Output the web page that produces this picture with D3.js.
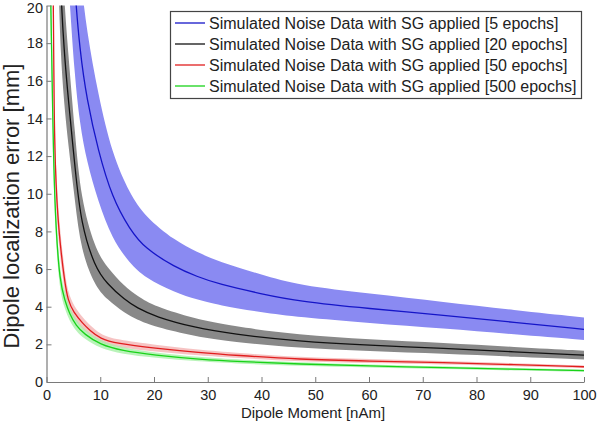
<!DOCTYPE html>
<html>
<head>
<meta charset="utf-8">
<script src="https://cdn.jsdelivr.net/npm/d3@7"></script>
<style>
  html, body { margin: 0; padding: 0; background: #fff; }
  svg { display: block; font-family: "Liberation Sans", Arial, sans-serif; }
</style>
</head>
<body>
<svg id="chart" width="600" height="425"></svg>
<script>
// ---- Data ----
const xTicks = [0, 10, 20, 30, 40, 50, 60, 70, 80, 90, 100];
const yTicks = [0, 2, 4, 6, 8, 10, 12, 14, 16, 18, 20];

const seriesNames = [
  "Simulated Noise Data with SG applied [5 epochs]",
  "Simulated Noise Data with SG applied [20 epochs]",
  "Simulated Noise Data with SG applied [50 epochs]",
  "Simulated Noise Data with SG applied [500 epochs]"
];

// 5 epochs
const blueX     = [4.3, 5.2, 6.2, 7.5, 9.6, 12.2, 15.5, 18.3, 23.9, 28, 32, 40, 47, 60, 74, 87, 100];
const blueMean  = [26, 21, 17.6, 15.0, 12.3, 9.8, 8.1, 7.1, 6.1, 5.6, 5.2, 4.68, 4.28, 3.9, 3.54, 3.17, 2.8];
const blueUpper = [32, 26, 21.8, 18.6, 15.3, 12.1, 10.0, 8.8, 7.5, 6.9, 6.4, 5.7, 5.12, 4.7, 4.25, 3.82, 3.43];
const blueLower = [20.3, 16.4, 13.7, 11.7, 9.6, 7.6, 6.3, 5.55, 4.75, 4.38, 4.08, 3.7, 3.45, 3.13, 2.84, 2.53, 2.23];

// 20 epochs
const blackX     = [2.3, 2.6, 3.26, 4.06, 5.3, 6.4, 9.0, 11.2, 14.6, 16.8, 20.2, 27.7, 34.4, 47, 60, 74, 87, 100];
const blackMean  = [24.5, 21, 17.6, 15, 11.4, 8.4, 6.1, 5.24, 4.35, 3.95, 3.47, 2.88, 2.55, 2.16, 1.95, 1.79, 1.6, 1.43];
const blackUpper = [28.4, 24.4, 20.4, 17.4, 13.2, 9.7, 7.1, 6.1, 5.05, 4.6, 4.0, 3.35, 2.97, 2.5, 2.27, 2.08, 1.86, 1.66];
const blackLower = [20.6, 17.6, 14.8, 12.6, 9.6, 7.0, 5.1, 4.4, 3.65, 3.32, 2.92, 2.42, 2.14, 1.8, 1.64, 1.5, 1.34, 1.2];

// 50 epochs
const redX     = [1.15, 1.27, 1.34, 1.4, 1.6, 2.2, 3.4, 4.0, 5.0, 6.8, 8.0, 10, 13, 20, 28.6, 35, 47, 60, 74, 87, 100];
const redMean  = [23, 20, 17.6, 15, 11.4, 8.1, 5.24, 4.35, 3.7, 3.1, 2.76, 2.3, 2.05, 1.8, 1.56, 1.42, 1.2, 1.11, 1.03, 0.92, 0.81];
const redUpper = [25.3, 22, 19.4, 16.5, 12.5, 8.9, 5.8, 4.8, 4.07, 3.4, 3.04, 2.53, 2.25, 1.98, 1.71, 1.56, 1.31, 1.22, 1.12, 1.0, 0.88];
const redLower = [20.7, 18, 15.8, 13.5, 10.3, 7.3, 4.7, 3.9, 3.33, 2.8, 2.48, 2.07, 1.85, 1.62, 1.4, 1.28, 1.09, 1.0, 0.94, 0.84, 0.74];

// 500 epochs
const greenX     = [0.7, 0.78, 0.97, 1.1, 1.35, 1.75, 2.5, 3.4, 4.3, 5.5, 7, 10, 14, 20, 28.6, 36, 47, 60, 74, 87, 100];
const greenMean  = [23, 20, 17.6, 15, 11.4, 8.1, 5.3, 4.35, 3.6, 3.0, 2.55, 1.98, 1.66, 1.43, 1.2, 1.08, 0.95, 0.85, 0.76, 0.68, 0.6];
const greenUpper = [25.3, 22, 19.4, 16.5, 12.5, 8.9, 5.83, 4.8, 3.96, 3.3, 2.8, 2.18, 1.83, 1.57, 1.32, 1.19, 1.04, 0.93, 0.83, 0.75, 0.66];
const greenLower = [20.7, 18, 15.8, 13.5, 10.3, 7.3, 4.77, 3.9, 3.24, 2.7, 2.3, 1.78, 1.49, 1.29, 1.08, 0.97, 0.86, 0.77, 0.69, 0.61, 0.54];

// ---- Build series table ----
const series = [
  { name: seriesNames[0], xs: blueX,  mean: blueMean,  up: blueUpper,  lo: blueLower,  line: "#1515c8", band: "#8a8af2", bandOp: 1 },
  { name: seriesNames[1], xs: blackX, mean: blackMean, up: blackUpper, lo: blackLower, line: "#111111", band: "#898989", bandOp: 1 },
  { name: seriesNames[2], xs: redX,   mean: redMean,   up: redUpper,   lo: redLower,   line: "#e01e1e", band: "#f4b4b4", bandOp: 0.8 },
  { name: seriesNames[3], xs: greenX, mean: greenMean, up: greenUpper, lo: greenLower, line: "#19d219", band: "#a8f0a8", bandOp: 0.8 }
];

const svg = d3.select("#chart");
const mLeft = 46.5, mRight = 584, mTop = 5.5, mBottom = 382;

const x = d3.scaleLinear().domain([0, 100]).range([mLeft, mRight]);
const y = d3.scaleLinear().domain([0, 20]).range([mBottom, mTop]);

svg.append("defs").append("clipPath").attr("id", "plotclip")
  .append("rect").attr("x", mLeft).attr("y", mTop)
  .attr("width", mRight - mLeft).attr("height", mBottom - mTop);

const plot = svg.append("g").attr("clip-path", "url(#plotclip)");

const area = d3.area()
  .x(d => x(d.x)).y0(d => y(d.lo)).y1(d => y(d.up))
  .curve(d3.curveBasis);
const line = d3.line()
  .x(d => x(d.x)).y(d => y(d.m))
  .curve(d3.curveBasis);

series.forEach(s => {
  s.pts = s.xs.map((xv, i) => ({ x: xv, m: s.mean[i], up: s.up[i], lo: s.lo[i] }));
});

series.forEach(s => {
  plot.append("path").datum(s.pts)
    .attr("d", area)
    .attr("fill", s.band)
    .attr("fill-opacity", s.bandOp)
    .attr("stroke", "none");
});
series.forEach(s => {
  plot.append("path").datum(s.pts)
    .attr("d", line)
    .attr("fill", "none")
    .attr("stroke", s.line)
    .attr("stroke-width", 1.3);
});

// ---- Axes ----
const axisColor = "#7a7a7a";
const xAxis = svg.append("g")
  .attr("transform", `translate(0,${mBottom})`)
  .call(d3.axisBottom(x).tickValues(xTicks).tickSize(-5).tickSizeOuter(0).tickPadding(8));
const yAxis = svg.append("g")
  .attr("transform", `translate(${mLeft},0)`)
  .call(d3.axisLeft(y).tickValues(yTicks).tickSize(-5).tickSizeOuter(0).tickPadding(3.5));

[xAxis, yAxis].forEach(a => {
  a.select(".domain").attr("stroke", axisColor).attr("stroke-width", 1.2);
  a.selectAll(".tick line").attr("stroke", axisColor);
  a.selectAll(".tick text")
    .attr("fill", "#222")
    .style("font-size", "14.5px")
    .style("font-family", "'Liberation Sans', Arial, sans-serif");
});
// keep the top label inside the picture
yAxis.selectAll(".tick text").filter(d => d === 20).attr("dy", "0.45em");

// Axis titles
svg.append("text")
  .attr("x", 313).attr("y", 417.5)
  .attr("text-anchor", "middle")
  .attr("fill", "#222")
  .style("font-size", "15px")
  .text("Dipole Moment [nAm]");

svg.append("text")
  .attr("transform", "translate(19,206) rotate(-90)")
  .attr("text-anchor", "middle")
  .attr("fill", "#222")
  .style("font-size", "22px")
  .text("Dipole localization error [mm]");

// ---- Legend ----
const lg = svg.append("g");
lg.append("rect")
  .attr("x", 170.5).attr("y", 11.5)
  .attr("width", 411).attr("height", 87)
  .attr("fill", "#fff").attr("stroke", "#444").attr("stroke-width", 1.2);

series.forEach((s, i) => {
  const yy = 23 + i * 21;
  lg.append("line")
    .attr("x1", 175).attr("x2", 205)
    .attr("y1", yy).attr("y2", yy)
    .attr("stroke", s.line).attr("stroke-width", 1.3);
  lg.append("text")
    .attr("x", 209).attr("y", yy)
    .attr("dy", "0.35em")
    .attr("fill", "#222")
    .style("font-size", "16px")
    .text(s.name);
});
</script>
</body>
</html>
